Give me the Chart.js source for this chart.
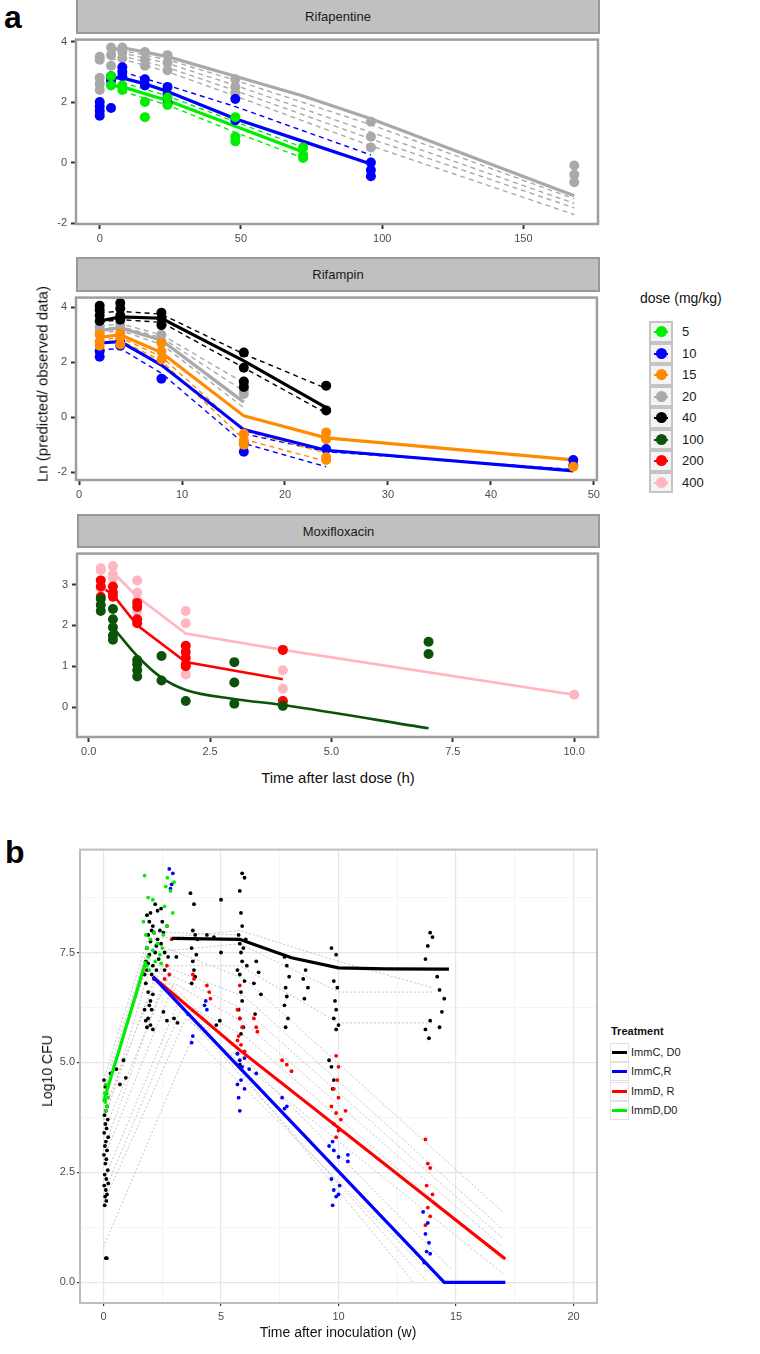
<!DOCTYPE html>
<html>
<head>
<meta charset="utf-8">
<script src="https://cdn.jsdelivr.net/npm/chart.js@4.4.1/dist/chart.umd.min.js"></script>
<style>
  body { margin: 0; background: #fff; font-family: "Liberation Sans", Arial, sans-serif; }
  #page { position: relative; width: 760px; height: 1354px; overflow: hidden; background: #fff; }
  canvas { position: absolute; }
  .t { position: absolute; white-space: nowrap; line-height: 1; color: #111; transform: translate(-50%, -50%); }
  .rot { transform: translate(-50%, -50%) rotate(-90deg); }
  .strip { position: absolute; box-sizing: border-box; background: #c0c0c0; border: 2px solid #999;
           font-size: 13px; color: #1a1a1a; text-align: center; }
  .letter { position: absolute; font-weight: bold; font-size: 32px; line-height: 1; color: #000; }
  .dkey { position: absolute; left: 649px; width: 24px; height: 21.5px; box-sizing: border-box;
          background: #f4f4f4; border: 2px solid #c4c4c4; }
  .dkey i { position: absolute; left: 3px; right: 3px; top: 8px; height: 2px; }
  .dkey b { position: absolute; left: 5px; top: 3px; width: 11px; height: 11px; border-radius: 50%; }
  .dlab { position: absolute; left: 682px; font-size: 13px; color: #1a1a1a; line-height: 1; }
  .tkey { position: absolute; left: 610px; width: 19px; height: 19px; box-sizing: border-box;
          background: #fff; border: 1px solid #e2e2e2; }
  .tkey i { position: absolute; left: 1px; right: 1px; top: 7px; height: 3px; }
  .tlab { position: absolute; left: 631px; font-size: 11px; color: #1a1a1a; line-height: 1; }
</style>
</head>
<body>
<div id="page">
  <div class="letter" style="left:4px; top:1px;">a</div>
  <div class="letter" style="left:5px; top:836px;">b</div>

  <div class="strip" style="left:76px; top:-2px; width:524px; height:36px; line-height:34px;">Rifapentine</div>
  <div class="strip" style="left:76px; top:257px; width:524px; height:35px; line-height:32px;">Rifampin</div>
  <div class="strip" style="left:77px; top:514px; width:523px; height:34px; line-height:31px;">Moxifloxacin</div>

  <canvas id="c-rpt"></canvas>
  <canvas id="c-rif"></canvas>
  <canvas id="c-mox"></canvas>
  <canvas id="c-cfu"></canvas>

  <div class="t rot" style="left:42px; top:384px; font-size:15px;">Ln (predicted/ observed data)</div>
  <div class="t" style="left:338px; top:777px; font-size:15px;">Time after last dose (h)</div>
  <div class="t rot" style="left:47px; top:1071px; font-size:14px;">Log10 CFU</div>
  <div class="t" style="left:338px; top:1332px; font-size:14px;">Time after inoculation (w)</div>

  <div id="dose-legend"></div>
  <div id="treat-legend"></div>
</div>

<script>
// ---------- panel a: Rifapentine (time h, ln ratio) ----------
const rpt20Obs = [[0,3.5],[0,3.4],[0,2.8],[0,2.6],[0,2.4],[4,3.8],[4,3.55],[4,3.2],[8,3.8],[8,3.65],[8,3.45],
  [16,3.65],[16,3.4],[16,3.2],[24,3.55],[24,3.3],[24,3.05],[48,2.75],[48,2.5],[48,2.3],
  [96,1.35],[96,0.85],[96,0.5],[168,-0.1],[168,-0.4],[168,-0.65]];
const rpt20Fit = [[4,3.7],[8,3.8],[24,3.5],[48,2.85],[72,2.2],[96,1.45],[168,-1.1]];
const rpt20Ind = [
  [[4,3.65],[8,3.7],[24,3.4],[48,2.72],[96,1.25],[168,-1.2]],
  [[4,3.6],[8,3.62],[24,3.28],[48,2.55],[96,1.0],[168,-1.35]],
  [[4,3.5],[8,3.52],[24,3.14],[48,2.38],[96,0.78],[168,-1.5]],
  [[4,3.4],[8,3.42],[24,3.0],[48,2.2],[96,0.55],[168,-1.72]]
];
const rpt10Obs = [[0,2.0],[0,1.85],[0,1.7],[0,1.55],[4,1.8],[4,2.85],[4,2.7],[8,3.15],[8,3.0],[8,2.85],
  [16,2.75],[16,2.55],[24,2.5],[24,2.25],[24,1.95],[48,2.1],[48,1.4],[96,0.0],[96,-0.25],[96,-0.45]];
const rpt10Fit = [[3,2.8],[8,2.8],[16,2.6],[24,2.35],[48,1.45],[72,0.7],[96,-0.05]];
const rpt10Ind = [[[8,3.0],[24,2.55],[48,1.85],[72,1.05],[96,0.25]]];
const rpt5Obs = [[4,2.85],[4,2.55],[8,2.55],[8,2.4],[16,2.0],[16,1.5],[24,2.15],[24,1.9],
  [48,1.5],[48,0.85],[48,0.7],[72,0.5],[72,0.25],[72,0.15]];
const rpt5Fit = [[4,2.55],[8,2.5],[24,2.05],[48,1.2],[72,0.35]];
const rpt5Ind = [[[8,2.65],[24,2.2],[48,1.35],[72,0.5]], [[8,2.35],[24,1.9],[48,1.0],[72,0.15]]];

// ---------- panel a: Rifampin ----------
const rif40Obs = [[2,4.05],[2,3.9],[2,3.7],[2,3.5],[4,4.15],[4,3.95],[4,3.7],[4,3.55],[8,3.8],[8,3.6],[8,3.35],
  [16,2.35],[16,1.8],[16,1.3],[16,1.1],[24,1.15],[24,0.25]];
const rif40Fit = [[2,3.5],[4,3.65],[8,3.6],[16,2.05],[24,0.35]];
const rif40Ind = [[[2,3.8],[4,3.85],[8,3.75],[16,2.3],[24,1.05]], [[2,3.45],[4,3.55],[8,3.45],[16,1.8],[24,0.15]]];
const rif20Obs = [[2,3.3],[2,3.15],[4,3.4],[4,3.25],[8,3.0],[8,2.75],[16,1.2],[16,1.0],[16,0.85]];
const rif20Fit = [[2,3.15],[4,3.25],[8,2.8],[16,0.55]];
const rif20Ind = [[[2,3.3],[4,3.4],[8,3.0],[16,1.25]], [[2,3.2],[4,3.3],[8,2.9],[16,0.95]], [[2,3.05],[4,3.15],[8,2.65],[16,0.35]]];
const rif15Obs = [[2,3.0],[2,2.75],[2,2.6],[4,3.05],[4,2.9],[4,2.65],[8,2.7],[8,2.4],[8,2.1],
  [16,-0.6],[16,-0.85],[16,-1.0],[24,-0.55],[24,-0.8],[24,-1.45],[24,-1.55],[48,-1.8]];
const rif15Fit = [[2,2.9],[4,3.0],[8,2.35],[16,0.05],[24,-0.75],[48,-1.55]];
const rif15Ind = [[[2,2.8],[4,2.9],[8,2.2],[16,-0.5],[24,-1.3]], [[2,2.7],[4,2.8],[8,2.05],[16,-0.8],[24,-1.6]]];
const rif10Obs = [[2,2.4],[2,2.2],[4,2.75],[4,2.6],[8,1.4],[16,-0.95],[16,-1.25],[24,-1.15],[48,-1.55],[48,-1.75]];
const rif10Fit = [[2,2.7],[4,2.75],[8,1.9],[16,-0.45],[24,-1.2],[48,-1.95]];
const rif10Ind = [[[2,2.45],[4,2.5],[8,1.6],[16,-0.95],[24,-1.8]], [[16,-0.6],[24,-1.25],[48,-1.9]]];

// ---------- panel a: Moxifloxacin ----------
const mox400Obs = [[0.25,3.4],[0.25,3.35],[0.25,2.9],[0.5,3.45],[0.5,3.25],[0.5,3.15],[1,3.1],[1,2.8],[1,2.6],[1,2.35],
  [2,2.35],[2,2.05],[2,0.8],[4,1.4],[4,0.9],[4,0.45],[4,0.15],[10,0.3]];
const mox400Fit = [[0.5,3.3],[1,2.7],[2,1.8],[4,1.4],[10,0.3]];
const mox200Obs = [[0.25,3.1],[0.25,2.95],[0.25,2.7],[0.5,2.95],[0.5,2.8],[0.5,2.7],[1,2.55],[1,2.45],[1,2.15],[1,2.05],
  [2,1.5],[2,1.35],[2,1.2],[2,1.05],[2,1.0],[4,1.4],[4,0.15]];
const mox200Fit = [[0.25,2.95],[0.5,2.75],[1,2.0],[2,1.1],[4,0.68]];
const mox100Obs = [[0.25,2.65],[0.25,2.5],[0.25,2.35],[0.5,2.4],[0.5,2.15],[0.5,1.95],[0.5,1.75],[0.5,1.65],
  [1,1.15],[1,1.05],[1,0.9],[1,0.75],[1.5,1.25],[1.5,0.65],[2,0.15],[3,1.1],[3,0.6],[3,0.08],[4,0.03],[7,1.6],[7,1.3]];
const mox100Fit = [[0.5,1.95],[1,1.25],[1.5,0.72],[2,0.42],[3,0.2],[4,0.05],[7,-0.52]];

const doseLabels = ["5", "10", "15", "20", "40", "100", "200", "400"];
const doseColors = ["#00ee00", "#0000ff", "#ff8c00", "#a9a9a9", "#000000", "#0b530b", "#ff0000", "#ffb6c1"];

// ---------- panel b: Log10 CFU vs weeks ----------
const immCD0Obs = [
  [0.02,4.6],[0.08,4.45],[0.12,4.3],[0.05,4.15],[0.15,4.0],[0.1,3.9],[0.04,3.8],[0.18,3.7],[0.08,3.6],[0.13,3.5],
  [0.03,3.4],[0.2,3.3],[0.1,3.2],[0.06,3.1],[0.15,3.0],[0.02,2.9],[0.12,2.8],[0.08,2.7],[0.18,2.55],[0.05,2.45],
  [0.12,2.35],[0.2,2.25],[0.03,2.2],[0.1,2.1],[0.15,2.0],[0.07,1.95],[0.12,1.85],[0.05,1.75],[0.1,0.55],[0.14,0.55],
  [0.55,4.85],[0.85,5.05],[0.95,4.65],[0.3,4.75],[0.7,4.5],
  [1.75,7.0],[1.8,7.3],[1.85,7.6],[1.9,7.9],[1.95,8.2],[2.0,8.4],[1.8,6.8],[1.9,6.6],[2.0,6.4],[2.05,6.2],
  [1.9,6.0],[2.0,5.85],[2.1,5.75],[1.85,7.1],[2.1,7.2],[2.2,7.5],[2.3,7.8],[2.4,8.0],[2.5,8.2],[2.2,8.6],
  [2.1,8.1],[1.95,7.45],[2.05,7.0],[2.15,6.9],[2.25,7.65],[2.35,7.35],[2.45,7.7],[2.55,7.95],[2.6,7.5],[2.7,8.1],
  [2.0,7.75],[1.85,8.35],[2.3,8.45],[2.1,6.55],[1.95,6.3],[2.15,7.95],[2.45,8.5],[2.05,8.0],[2.25,7.1],[1.9,7.25],
  [1.75,6.2],[1.8,5.95],[1.85,5.8],[2.55,6.15],[2.7,5.95],[2.6,7.1],[2.75,7.4],
  [3.7,8.85],[3.85,8.6],[3.8,8.0],[3.9,7.9],[3.75,7.6],[3.95,7.45],[3.8,7.3],[3.85,7.1],[3.9,6.95],[3.75,6.8],
  [4.0,7.8],[5.0,8.7],[4.7,7.85],[4.4,7.9],[5.0,7.5],[3.6,6.1],[3.1,7.4],[3.0,6.0],[3.15,5.9],[4.8,5.85],[4.95,5.95],
  [5.9,9.3],[6.0,9.2],[5.8,8.9],[5.85,8.4],[5.9,8.1],[5.75,7.9],[5.8,7.7],[5.95,7.6],[5.85,7.5],[5.9,7.3],
  [5.7,7.1],[5.8,7.0],[6.0,6.85],[5.85,6.6],[5.9,6.4],[5.75,6.2],[5.8,6.0],[5.95,5.8],[5.85,5.65],[6.05,7.8],
  [6.1,7.2],[5.7,5.2],[5.8,4.95],
  [6.5,7.3],[6.6,7.05],[6.4,6.8],[6.7,6.55],[6.45,6.1],
  [7.7,7.4],[7.8,7.2],[7.9,6.95],[7.75,6.7],[7.8,6.5],[7.7,6.3],[7.85,6.0],[7.75,5.8],[8.6,7.1],[8.5,6.9],[8.7,6.7],[8.55,6.45],
  [9.7,7.6],[9.9,7.45],[9.8,6.85],[9.95,6.7],[9.85,6.4],[9.9,6.2],[9.8,6.0],[10.0,5.85],[9.9,5.75],[9.6,5.05],[9.7,4.9],[9.8,4.6],[9.75,4.4],
  [13.9,7.95],[14.0,7.85],[13.8,7.65],[13.7,7.35],[14.2,6.95],[14.3,6.65],[14.5,6.45],[14.4,6.15],[13.9,5.95],[14.3,5.8],[13.7,5.75],[13.85,5.55]
];
const immCRObs = [[2.8,9.4],[2.9,9.05],[2.85,8.95],[2.95,9.3],[3.8,5.6],[3.75,5.45],[4.35,6.4],[4.3,6.3],[4.4,6.2],
  [5.7,5.2],[5.8,5.05],[5.9,4.9],[6.0,5.1],[6.2,4.85],[6.5,4.75],[5.85,4.6],[5.7,4.5],[5.75,4.2],[5.8,3.9],[6.0,4.4],
  [7.6,4.2],[7.8,4.0],[7.7,3.95],[9.6,3.1],[9.8,3.0],[10.0,2.85],[9.75,3.2],[10.4,2.9],[10.4,2.75],[9.7,2.35],
  [9.8,2.1],[9.9,1.95],[10.0,2.0],[9.75,1.75],[10.05,2.2],[13.6,1.6],[13.8,1.35],[13.7,1.1],[13.85,0.9],[13.75,0.7],
  [13.9,0.65],[13.65,0.45]];
const immDRObs = [[2.9,7.8],[2.7,7.2],[2.8,7.0],[2.6,6.9],[3.8,7.0],[3.85,6.9],[4.4,6.75],[4.5,6.6],[4.55,6.45],
  [5.8,6.75],[5.7,6.2],[5.8,6.0],[5.9,5.8],[5.75,5.6],[5.85,5.4],[6.0,5.25],[5.7,5.5],[6.4,6.0],[6.5,5.8],[6.55,5.7],
  [7.6,5.05],[7.8,4.95],[8.0,4.8],[9.9,5.15],[10.0,4.9],[9.95,4.6],[9.8,4.4],[10.0,4.2],[9.7,4.0],[9.9,3.85],
  [10.1,3.7],[9.8,3.6],[10.0,3.45],[10.3,3.9],[9.9,3.3],[13.7,3.25],[13.8,2.7],[13.9,2.6],[13.75,2.2],[14.0,2.0],
  [13.8,1.7],[13.9,1.5],[13.7,1.3]];
const immDD0Obs = [[1.75,9.25],[2.1,8.7],[1.9,8.75],[1.7,8.2],[2.65,9.0],[2.72,9.2],[3.0,9.1],[2.95,8.4],[2.85,8.9],
  [2.6,8.55],[1.8,7.9],[1.85,7.6],[1.9,7.4],[2.0,7.8],[2.1,7.55],[2.2,7.3],[1.95,7.1],[2.3,7.7],[2.4,7.45],[2.5,7.6],
  [2.55,7.9],[2.7,8.1],[2.45,7.25],[2.15,7.95],[1.85,7.2],[0.05,4.3],[0.1,4.5],[0.08,4.1],[0.15,4.0],[0.1,3.9],[0.2,4.2]];

const immCD0Fit = [[2.9,7.82],[5.8,7.8],[6.2,7.72],[8,7.38],[10,7.15],[12,7.13],[14.7,7.12]];
const immCRFit = [[2.1,6.95],[14.5,0],[17.1,0]];
const immDRFit = [[2.1,6.95],[5.8,5.28],[17.1,0.53]];
const immDD0Fit = [[0,4.1],[1.8,7.3]];
const cfuIndividual = [
  [[0,4.3],[2.2,7.7],[6,6.9],[17,1.6]],
  [[0,3.9],[2.5,7.2],[6,6.5],[17,1.2]],
  [[0,3.4],[2.8,7.0],[6,6.2],[17,1.0]],
  [[0,2.8],[3.0,6.8],[6,5.9],[17,0.8]],
  [[0,2.3],[3.2,6.4],[6,5.6],[17,0.5]],
  [[0,1.8],[3.5,6.0],[17,0.2]],
  [[0,0.8],[3.8,5.6],[14.3,0.0]],
  [[0,2.0],[3.3,6.2],[13.8,0.0]],
  [[0,3.0],[2.6,6.9],[13.2,0.0]],
  [[0,3.7],[2.3,7.1],[14.8,0.3]],
  [[0,4.4],[2.0,7.8],[5.8,8.0],[10,7.3],[14,6.7]],
  [[0,4.1],[2.0,7.5],[5.8,7.7],[10,6.6],[14,6.6]],
  [[0,3.6],[2.0,7.2],[5.8,7.2],[10,5.9],[14,5.9]],
  [[0,4.6],[2.0,8.0],[3.0,7.95],[5.8,7.9]]
];
const treatLabels = ["ImmC, D0", "ImmC,R", "ImmD, R", "ImmD,D0"];
const treatColors = ["#000000", "#0000ff", "#ff0000", "#00ee00"];

// tick positions / labels
const rptXTicks = [0, 50, 100, 150];
const rifXTicks = [0, 10, 20, 30, 40, 50];
const moxXTicks = [0, 2.5, 5, 7.5, 10];
const lnYTicks = [-2, 0, 2, 4];
const moxYTicks = [0, 1, 2, 3];
const cfuXMajor = [0, 5, 10, 15, 20];
const cfuXMinor = [2.5, 7.5, 12.5, 17.5];
const cfuYMajor = [0, 2.5, 5, 7.5];
const cfuYMinor = [1.25, 3.75, 6.25, 8.75];

// ---------- helpers ----------
const YW = 40, XH = 24, PAD = 4;
const FONT = '"Liberation Sans", Arial, sans-serif';

const xy = (pairs) => pairs.map(([x, y]) => ({ x, y }));

function obs(pairs, color, r) {
  return { data: xy(pairs), showLine: false, pointRadius: r, pointHoverRadius: r,
           pointBackgroundColor: color, pointBorderWidth: 0, borderColor: color };
}

function path(pairs, color, width, dash, smooth) {
  return { data: xy(pairs), showLine: true, pointRadius: 0, borderColor: color, borderWidth: width,
           borderDash: dash || [], fill: false, tension: 0, cubicInterpolationMode: smooth ? "monotone" : "default" };
}

// panel border drawn around the chart area
const frame = {
  id: "frame",
  afterDatasetsDraw(chart, args, o) {
    const { ctx, chartArea: a } = chart;
    ctx.save();
    ctx.strokeStyle = o.color;
    ctx.lineWidth = o.width;
    ctx.strokeRect(a.left, a.top, a.right - a.left, a.bottom - a.top);
    ctx.restore();
  },
};

function scale(min, max, ticks, fmt, isX, st) {
  return {
    type: "linear", min, max,
    afterBuildTicks: (s) => { s.ticks = ticks.map((v) => ({ value: v })); },
    afterFit: (s) => { if (isX) s.height = XH; else s.width = YW; },
    ticks: { callback: fmt, autoSkip: false, maxRotation: 0, padding: st.pad,
             color: "#4d4d4d", font: { family: FONT, size: st.size } },
    grid: st.grid,
    border: { display: false },
  };
}

function makePanel(id, area, xs, ys, datasets, frameStyle) {
  const [l, t, r, b] = area;
  const cv = document.getElementById(id);
  const W = r - l + YW + 2 * PAD, H = b - t + XH + 2 * PAD;
  cv.width = W; cv.height = H;
  cv.style.left = (l - YW - PAD) + "px";
  cv.style.top = (t - PAD) + "px";
  return new Chart(cv, {
    type: "scatter",
    data: { datasets },
    options: {
      responsive: false, animation: false, events: [],
      layout: { padding: PAD },
      plugins: { legend: { display: false }, tooltip: { enabled: false }, frame: frameStyle },
      scales: { x: xs, y: ys },
    },
    plugins: [frame],
  });
}

// ---------- panel a charts ----------
const aGrid = { drawOnChartArea: false, drawTicks: true, tickLength: 5, tickWidth: 2, tickColor: "#333" };
const aX = { pad: 3, size: 11, grid: aGrid };
const aY = { pad: 4, size: 11, grid: aGrid };
const aFrame = { color: "#9e9e9e", width: 2.5 };
const PR = 5, FW = 3.2, DW = 1.4, DASH = [5, 4];
const num = (v) => String(v);
const [cG5, cB10, cO15, cG20, cK40, cDG100, cR200, cP400] = doseColors;

makePanel("c-rpt", [76, 33, 599, 224],
  scale(-8.4, 176.4, rptXTicks, num, true, aX),
  scale(-2.032, 4.064, lnYTicks, num, false, aY),
  [].concat(
    [obs(rpt5Obs, cG5, PR), obs(rpt10Obs, cB10, PR), obs(rpt20Obs, cG20, PR)],
    [path(rpt5Fit, cG5, FW), path(rpt10Fit, cB10, FW), path(rpt20Fit, cG20, FW)],
    rpt5Ind.map((p) => path(p, cG5, DW, DASH)),
    rpt10Ind.map((p) => path(p, cB10, DW, DASH)),
    rpt20Ind.map((p) => path(p, cG20, DW, DASH))
  ), aFrame);

makePanel("c-rif", [76, 291, 599, 480],
  scale(-0.3, 50.3, rifXTicks, num, true, aX),
  scale(-2.28, 4.35, lnYTicks, num, false, aY),
  [].concat(
    [obs(rif40Obs, cK40, PR), obs(rif15Obs, cO15, PR), obs(rif10Obs, cB10, PR), obs(rif20Obs, cG20, PR)],
    [path(rif40Fit, cK40, FW), path(rif15Fit, cO15, FW), path(rif10Fit, cB10, FW), path(rif20Fit, cG20, FW)],
    rif40Ind.map((p) => path(p, cK40, DW, DASH)),
    rif15Ind.map((p) => path(p, cO15, DW, DASH)),
    rif10Ind.map((p) => path(p, cB10, DW, DASH)),
    rif20Ind.map((p) => path(p, cG20, DW, DASH))
  ), aFrame);

makePanel("c-mox", [77, 547, 599, 737],
  scale(-0.24, 10.49, moxXTicks, (v) => v.toFixed(1), true, aX),
  scale(-0.732, 3.756, moxYTicks, num, false, aY),
  [
    obs(mox100Obs, cDG100, PR), obs(mox200Obs, cR200, PR), obs(mox400Obs, cP400, PR),
    path(mox100Fit, cDG100, 2.6, [], true), path(mox200Fit, cR200, 2.6), path(mox400Fit, cP400, 2.6),
  ], aFrame);

// ---------- panel b chart ----------
const isIn = (arr) => (c) => c.tick && arr.includes(c.tick.value);
const bGridX = {
  drawOnChartArea: true, drawTicks: true, tickLength: 3,
  color: (c) => (isIn(cfuXMajor)(c) ? "#e6e6e6" : "#f3f3f3"),
  lineWidth: (c) => (isIn(cfuXMajor)(c) ? 1.2 : 0.8),
  tickColor: (c) => (isIn(cfuXMajor)(c) ? "#333" : "rgba(0,0,0,0)"),
};
const bGridY = {
  drawOnChartArea: true, drawTicks: true, tickLength: 3,
  color: (c) => (isIn(cfuYMajor)(c) ? "#e6e6e6" : "#f3f3f3"),
  lineWidth: (c) => (isIn(cfuYMajor)(c) ? 1.2 : 0.8),
  tickColor: (c) => (isIn(cfuYMajor)(c) ? "#333" : "rgba(0,0,0,0)"),
};
const [cImmCD0, cImmCR, cImmDR, cImmDD0] = treatColors;

makePanel("c-cfu", [80, 845, 597, 1303],
  scale(-1, 21, cfuXMajor.concat(cfuXMinor), (v) => (cfuXMajor.includes(v) ? String(v) : ""), true,
        { pad: 4, size: 11, grid: bGridX }),
  scale(-0.47, 9.84, cfuYMajor.concat(cfuYMinor), (v) => (cfuYMajor.includes(v) ? v.toFixed(1) : ""), false,
        { pad: 2, size: 11, grid: bGridY }),
  [].concat(
    [path(immDD0Fit, cImmDD0, 3.2), path(immCRFit, cImmCR, 3.2), path(immDRFit, cImmDR, 3.2), path(immCD0Fit, cImmCD0, 3.2)],
    [obs(immDD0Obs, cImmDD0, 1.9), obs(immCRObs, cImmCR, 1.9), obs(immDRObs, cImmDR, 1.9), obs(immCD0Obs, cImmCD0, 1.9)],
    cfuIndividual.map((p) => path(p, "#c4c4c4", 1, [2, 2]))
  ), { color: "#bdbdbd", width: 2 });

// ---------- legends ----------
(function buildLegends() {
  const dl = document.getElementById("dose-legend");
  let html = '<div class="t" style="transform:none; left:640px; top:291px; font-size:14px;">dose (mg/kg)</div>';
  doseLabels.forEach((lab, i) => {
    const top = 321 + i * 21.5;
    html += `<div class="dkey" style="top:${top}px"><i style="background:${doseColors[i]}"></i><b style="background:${doseColors[i]}"></b></div>`;
    html += `<div class="dlab" style="top:${top + 4}px">${lab}</div>`;
  });
  dl.innerHTML = html;

  const tl = document.getElementById("treat-legend");
  let h2 = '<div class="t" style="transform:none; left:611px; top:1026px; font-size:11px; font-weight:bold;">Treatment</div>';
  treatLabels.forEach((lab, i) => {
    const top = 1042.5 + i * 19.5;
    h2 += `<div class="tkey" style="top:${top}px"><i style="background:${treatColors[i]}"></i></div>`;
    h2 += `<div class="tlab" style="top:${top + 4}px">${lab}</div>`;
  });
  tl.innerHTML = h2;
})();
</script>
</body>
</html>
